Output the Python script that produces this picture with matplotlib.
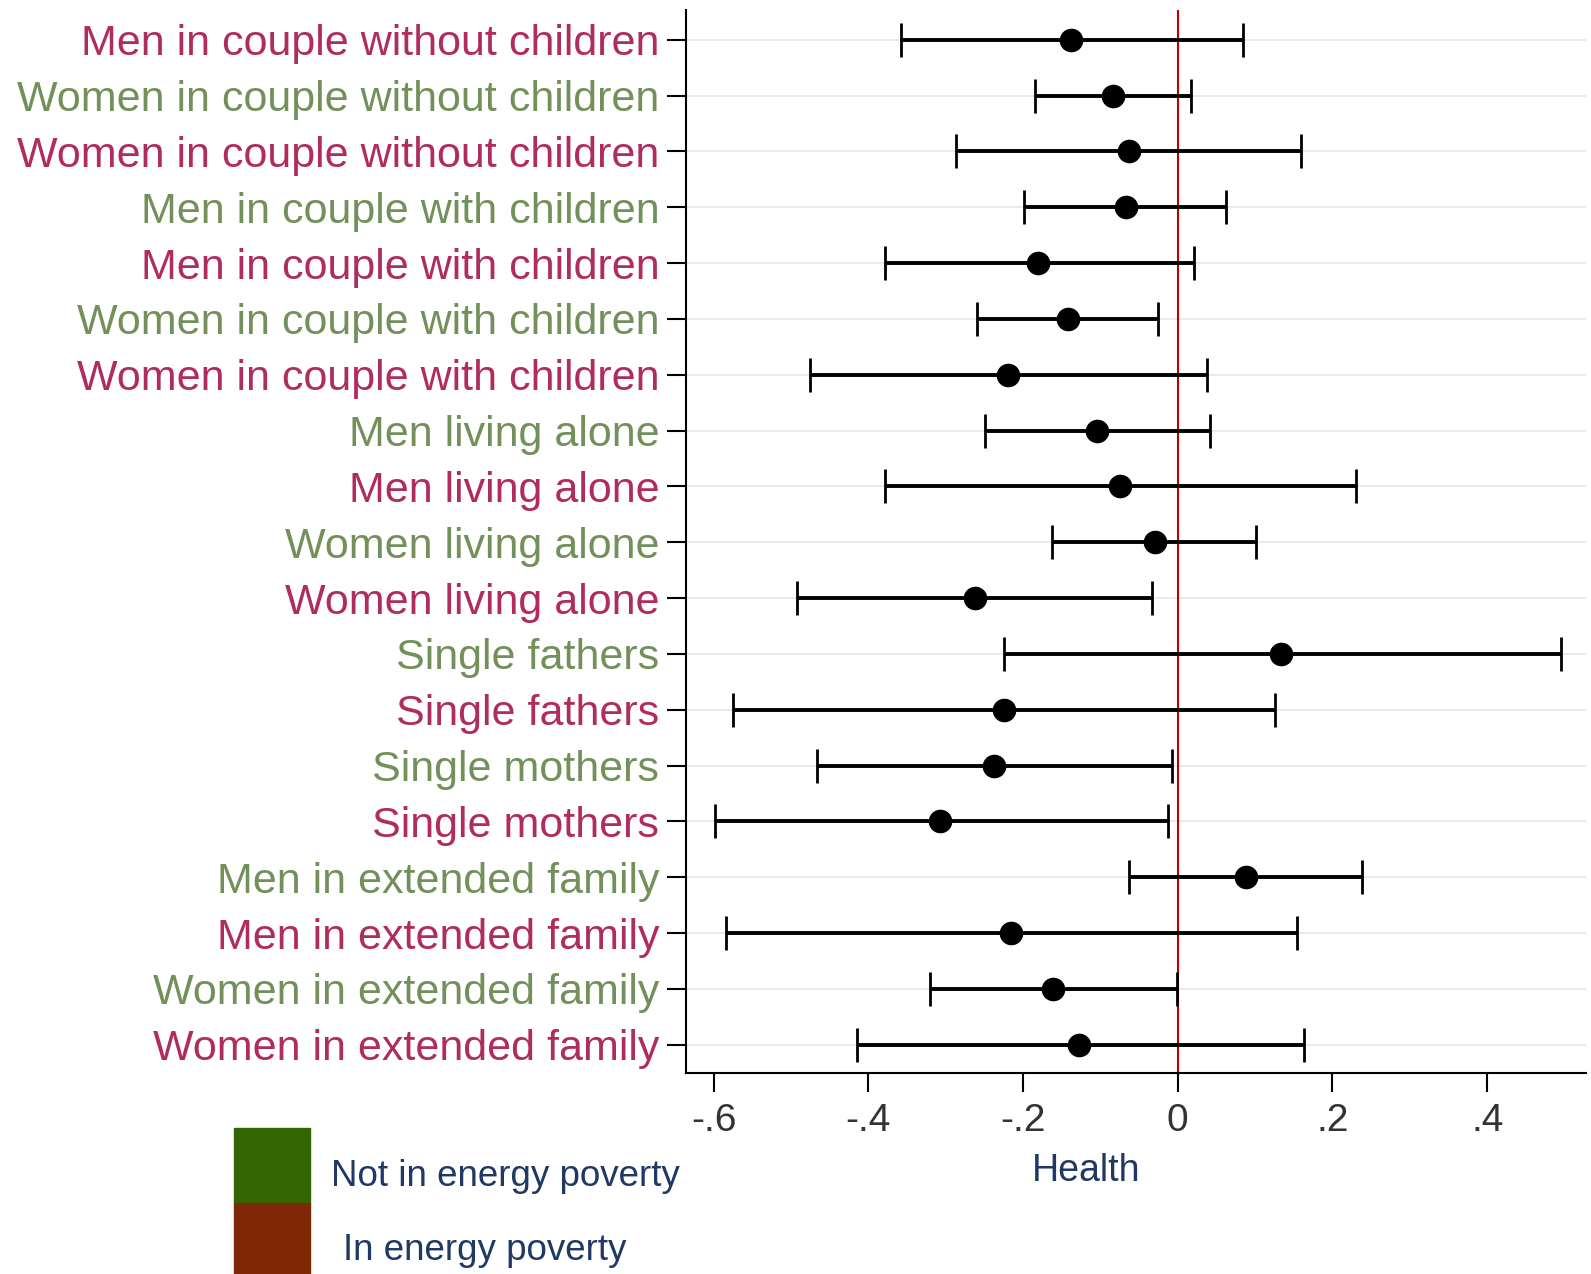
import numpy as np
import matplotlib.pyplot as plt
from matplotlib.patches import Rectangle

plt.rcParams['font.family'] = ['Liberation Sans', 'DejaVu Sans']

labels = ['Men in couple without children', 'Women in couple without children',
          'Women in couple without children', 'Men in couple with children',
          'Men in couple with children', 'Women in couple with children',
          'Women in couple with children', 'Men living alone', 'Men living alone',
          'Women living alone', 'Women living alone', 'Single fathers',
          'Single fathers', 'Single mothers', 'Single mothers',
          'Men in extended family', 'Men in extended family',
          'Women in extended family', 'Women in extended family']
# 1 = in energy poverty, 0 = not in energy poverty
poverty = [1, 0, 1, 0, 1, 0, 1, 0, 1, 0, 1, 0, 1, 0, 1, 0, 1, 0, 1]
est = [-0.138, -0.084, -0.063, -0.067, -0.180, -0.142, -0.220, -0.105, -0.075,
       -0.030, -0.262, 0.134, -0.224, -0.238, -0.307, 0.088, -0.215, -0.161, -0.127]
lo = [-0.358, -0.184, -0.287, -0.199, -0.378, -0.259, -0.475, -0.249, -0.378,
      -0.163, -0.492, -0.224, -0.575, -0.466, -0.598, -0.063, -0.584, -0.320, -0.415]
hi = [0.084, 0.017, 0.159, 0.063, 0.021, -0.025, 0.038, 0.042, 0.230,
      0.101, -0.033, 0.496, 0.126, -0.008, -0.012, 0.238, 0.154, -0.001, 0.163]
xticks = [-0.6, -0.4, -0.2, 0, 0.2, 0.4]
xticklabels = ['-.6', '-.4', '-.2', '0', '.2', '.4']

red_lab = '#B02C5E'
green_lab = '#72915A'
navy = '#1F3864'

est = np.array(est)
lo = np.array(lo)
hi = np.array(hi)
ypos = np.arange(len(labels))

fig = plt.figure(figsize=(15.91, 12.74), dpi=100)
ax = fig.add_axes([0.431, 0.158, 0.566, 0.834])

for y in ypos:
    ax.axhline(y, color='#EAEAEA', lw=1.5, zorder=0)
ax.axvline(0, color='#C00000', lw=1.5, zorder=1)

ax.errorbar(est, ypos, xerr=[est - lo, hi - est], fmt='o', color='black',
            ecolor='black', elinewidth=2.8, capsize=12, capthick=2,
            markersize=16, zorder=3)

ax.set_ylim(len(labels) - 0.5, -0.53)
ax.set_xlim(-0.636, 0.528)
ax.set_yticks(ypos)
ax.set_yticklabels(labels, fontsize=31)
for t, p in zip(ax.get_yticklabels(), poverty):
    t.set_color(red_lab if p else green_lab)
ax.set_xticks(xticks)
ax.set_xticklabels(xticklabels, fontsize=28, color='#333333')
ax.tick_params(axis='y', length=14, width=1.5, pad=5)
ax.tick_params(axis='x', length=14, width=1.5, pad=8)
for s in ['top', 'right']:
    ax.spines[s].set_visible(False)
for s in ['left', 'bottom']:
    ax.spines[s].set_linewidth(1.5)

fig.text(0.6825, 0.081, 'Health', fontsize=27, color=navy, ha='center', va='center')

fig.patches.append(Rectangle((234 / 1591, 1 - 1203 / 1274), 76 / 1591, 75 / 1274,
                             transform=fig.transFigure, color='#336600'))
fig.patches.append(Rectangle((234 / 1591, 0), 76 / 1591, 71 / 1274,
                             transform=fig.transFigure, color='#7F2806'))
fig.text(331 / 1591, 1 - 1176 / 1274, 'Not in energy poverty', fontsize=26.5,
         color=navy, va='center')
fig.text(343 / 1591, 1 - 1250 / 1274, 'In energy poverty', fontsize=26.5,
         color=navy, va='center')

fig.savefig('out.png', dpi=100)
